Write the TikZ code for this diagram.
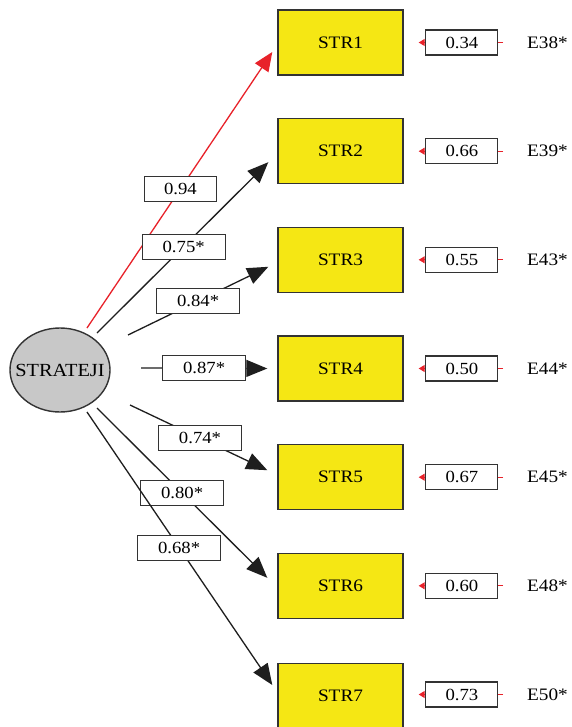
\documentclass[tikz,border=0pt]{standalone}
\usepackage{fontspec}
\setmainfont[FakeStretch=1.1]{Liberation Serif}
\usetikzlibrary{arrows.meta,shapes.geometric,calc}
\definecolor{boxyellow}{HTML}{F5E714}
\definecolor{edgegray}{HTML}{333333}
\definecolor{ellgray}{HTML}{C8C8C8}
\definecolor{linered}{HTML}{E8222A}
\definecolor{linedark}{HTML}{1E1E1E}
\tikzset{
  strbox/.style={draw=edgegray, line width=1.4pt, fill=boxyellow, minimum width=125pt, minimum height=65pt, inner sep=0pt, font=\fontsize{17.5}{20}\selectfont},
  latent/.style={ellipse, draw=edgegray, line width=1.4pt, fill=ellgray, minimum width=100pt, minimum height=84pt, inner sep=0pt},
  latenttext/.style={inner sep=0pt, font=\fontsize{18.5}{21}\selectfont},
  coef/.style={draw=edgegray, line width=1.1pt, fill=white, minimum width=83pt, minimum height=25pt, inner sep=0pt, font=\fontsize{17}{19}\selectfont},
  coefnarrow/.style={coef, minimum width=72pt},
  errbox/.style={draw=edgegray, line width=1.1pt, fill=white, minimum width=72pt, minimum height=25pt, inner sep=0pt, font=\fontsize{17}{19}\selectfont},
  elabel/.style={anchor=west, inner sep=0pt, font=\fontsize{17.5}{20}\selectfont},
  path/.style={draw=linedark, line width=1.3pt, -{Triangle[length=21pt,width=17pt]}},
  redpath/.style={draw=linered, line width=1.3pt, -{Triangle[length=19pt,width=16pt]}},
  errline/.style={draw=linered, line width=1pt, -{Triangle[length=6pt,width=7pt]}, shorten <=24pt, shorten >=15pt},
}
\begin{document}
\begin{tikzpicture}[x=1pt,y=-1pt]
\useasboundingbox (0,0) rectangle (571,727);
\fill[white] (0,0) rectangle (571,727);

\node[latent] (F) at (60,370) {};
\node[latenttext] (FT) at (F.center) {STRATEJI};

\node[strbox] (S1) at (340.5,42.5) {STR1};
\node[strbox] (S2) at (340.5,151.2) {STR2};
\node[strbox] (S3) at (340.5,259.8) {STR3};
\node[strbox] (S4) at (340.5,368.5) {STR4};
\node[strbox] (S5) at (340.5,477.2) {STR5};
\node[strbox] (S6) at (340.5,585.8) {STR6};
\node[strbox] (S7) at (340.5,696) {STR7};

\node[elabel] (E1) at (527,42.5) {E38*};
\node[elabel] (E2) at (527,151.2) {E39*};
\node[elabel] (E3) at (527,259.8) {E43*};
\node[elabel] (E4) at (527,368.5) {E44*};
\node[elabel] (E5) at (527,477.2) {E45*};
\node[elabel] (E6) at (527,585.8) {E48*};
\node[elabel] (E7) at (527,694.5) {E50*};

% factor loadings
\draw[redpath] ($(F.center)+(27,-42)$) -- ($(S1.west)+(-5,9.5)$) node[pos=0.504, coefnarrow] {0.94};
\draw[path] ($(F.center)+(37,-37)$) -- ($(S2.west)+(-9,11)$) node[pos=0.506, coef] {0.75*};
\draw[path] ($(F.center)+(68,-35)$) -- ($(S3.west)+(-9,7)$) node[pos=0.5, coef] {0.84*};
\draw[path] ($(F.center)+(81,-2)$) -- ($(S4.west)+(-10,0)$) node[pos=0.5, coef] {0.87*};
\draw[path] ($(F.center)+(70,35)$) -- ($(S5.west)+(-10,-7)$) node[pos=0.51, coef] {0.74*};
\draw[path] ($(F.center)+(37,38)$) -- ($(S6.west)+(-10,-8)$) node[pos=0.5, coef] {0.80*};
\draw[path] ($(F.center)+(27,42)$) -- ($(S7.west)+(-5,-11)$) node[pos=0.497, coef] {0.68*};

% error terms
\draw[errline] (E1.west) -- (S1.east) node[pos=0.528, errbox] {0.34};
\draw[errline] (E2.west) -- (S2.east) node[pos=0.528, errbox] {0.66};
\draw[errline] (E3.west) -- (S3.east) node[pos=0.528, errbox] {0.55};
\draw[errline] (E4.west) -- (S4.east) node[pos=0.528, errbox] {0.50};
\draw[errline] (E5.west) -- (S5.east) node[pos=0.528, errbox] {0.67};
\draw[errline] (E6.west) -- (S6.east) node[pos=0.528, errbox] {0.60};
\draw[errline] (E7.west) -- ($(S7.east)+(0,-1.5)$) node[pos=0.528, errbox] {0.73};
\end{tikzpicture}
\end{document}
